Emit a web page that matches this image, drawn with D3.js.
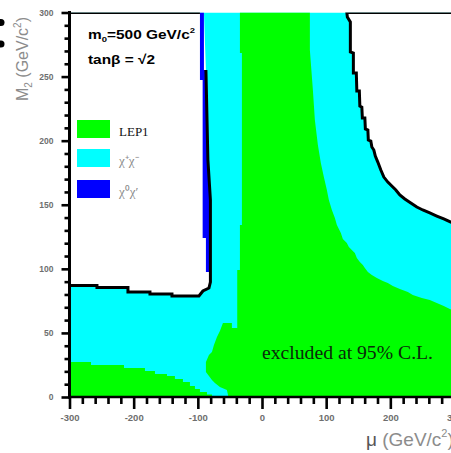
<!DOCTYPE html>
<html>
<head>
<meta charset="utf-8">
<script src="https://cdn.jsdelivr.net/npm/d3@7"></script>
<style>
  html, body { margin: 0; padding: 0; background: #fff; }
  svg { display: block; }
</style>
</head>
<body>
<svg id="chart" width="451" height="453"></svg>
<script>
// ---- axes ----
const muTicks = [-300, -200, -100, 0, 100, 200, 300];
const m2Ticks = [0, 50, 100, 150, 200, 250, 300];
const muMinor = d3.range(-300, 301, 20).filter(v => v % 100 !== 0);
const m2Minor = d3.range(0, 301, 10).filter(v => v % 50 !== 0);

// ---- region boundaries, (mu, M2) in GeV/c^2 ----
// allowed (not excluded) region at negative mu, contour from top down to the left edge
const allowedLeft = [[-87.4,255.1],[-84.3,184.9],[-80.4,153.7],[-80.4,89.7],[-82.7,85.0],
  [-92.1,82.7],[-98.3,78.8],[-140.3,78.8],[-140.3,80.4],[-174.6,80.4],[-174.6,81.9],
  [-208.9,81.9],[-208.9,85.4],[-257.2,85.4],[-257.2,87.0],[-300,87.0]];

// allowed region at large positive mu
const allowedRight = [[132.2,300],[133.0,296.5],[137.7,292.6],[137.7,269.2],[142.4,268.4],
  [142.4,252.8],[147.0,252.8],[147.8,238.7],[151.7,238.7],[152.5,227.0],[155.6,226.2],
  [156.4,217.7],[160.3,217.7],[161.1,209.1],[165.0,208.3],[165.7,200.5],[169.6,199.7],
  [171.2,195.1],[174.3,192.7],[176.6,188.0],[180.5,183.3],[185.2,177.1],[189.9,171.6],
  [196.1,167.7],[202.3,164.6],[208.6,161.5],[214.8,157.6],[222.6,154.5],[231.9,151.4],
  [241.3,148.2],[250.6,145.9],[261.5,143.6],[272.4,141.2],[283.3,138.9],[294.2,136.5],
  [300,135.4]];

// LEP1 exclusion: central band, left edge (top to bottom)
const lep1CentralLeft = [[-34.4,300],[-34.4,268.4],[-31.3,268.4],[-31.3,134.2],[-34.4,134.2],
  [-34.4,99.1],[-38.6,99.1],[-38.6,53.8],[-46.9,53.8],[-46.9,57.7],[-60.9,57.7],[-65.6,51.5],
  [-70.2,46.8],[-74.9,40.6],[-78.0,35.1],[-82.7,32.8],[-87.4,27.3],[-87.4,19.5],[-82.7,16.4],
  [-78.0,13.3],[-73.4,10.9],[-65.6,7.8],[-54.7,5.5],[-52.3,0]];

// LEP1 exclusion: central band, right edge (top to the right border)
const lep1CentralRight = [[74.6,300],[74.6,270.7],[79.3,239.5],[82.4,216.1],[87.1,196.6],
  [91.7,182.6],[96.4,171.6],[101.1,161.5],[104.2,153.7],[108.9,145.9],[113.6,139.7],
  [116.7,134.2],[122.9,128.0],[126.0,123.3],[132.2,120.2],[135.4,117.0],[140.0,114.7],
  [144.7,112.4],[147.8,108.4],[152.5,105.3],[157.2,103.0],[160.3,100.6],[165.0,97.5],
  [171.2,95.2],[179.0,92.8],[188.3,90.5],[196.1,88.9],[203.9,86.6],[214.8,84.3],
  [227.3,81.9],[235.0,79.6],[249.1,77.2],[261.5,75.7],[272.4,73.3],[283.3,71.0],
  [292.7,68.7],[300,67.1]];

// LEP1 exclusion: low-M2 strip at negative mu
const lep1Low = [[-300,0],[-300,27.3],[-266.5,27.3],[-266.5,25.0],[-215.1,25.0],[-215.1,22.6],
  [-182.4,22.6],[-182.4,20.3],[-166.8,20.3],[-166.8,17.9],[-148.1,17.9],[-148.1,16.4],
  [-135.7,16.4],[-135.7,14.0],[-123.2,14.0],[-123.2,11.7],[-112.3,11.7],[-112.3,8.6],
  [-104.5,8.6],[-104.5,6.2],[-96.7,6.2],[-96.7,3.9],[-85.8,3.9],[-85.8,2.0],[-78.0,2.0],
  [-78.0,0]];

// neutralino-pair exclusion sliver along the allowed-region edge
const neutralinoLeft = [[-96.7,300],[-96.7,247.3],[-92.5,247.3],[-92.5,124.1],[-87.4,124.1],[-87.4,97.5]];
const neutralinoRight = [[-80.4,97.5],[-80.4,153.7],[-84.3,184.9],[-87.4,255.1],[-90.5,255.1],[-90.5,300]];

const legendLabels = ["LEP1", "χ⁺χ⁻", "χ⁰χ′"];
const legendColors = ["#00ff00", "#00ffff", "#0000ff"];

// ---- layout ----
const svg = d3.select("#chart");
const x = d3.scaleLinear().domain([-300, 300]).range([69.5, 454.5]);
const y = d3.scaleLinear().domain([0, 300]).range([397, 12.5]);
const line = d3.line().x(d => x(d[0])).y(d => y(d[1]));
const [mu0, mu1] = x.domain(), [m0, m1] = y.domain();

svg.append("defs").append("clipPath").attr("id", "plot")
  .append("rect")
  .attr("x", x(mu0)).attr("y", y(m1))
  .attr("width", x(mu1) - x(mu0)).attr("height", y(m0) - y(m1));

const g = svg.append("g").attr("clip-path", "url(#plot)");

// chargino-pair exclusion covers everything not allowed
g.append("path")
  .attr("d", line([[mu0, m0], [mu0, m1], [mu1, m1], [mu1, m0]]) + "Z")
  .attr("fill", "#00ffff");

// allowed regions
g.append("path")
  .attr("d", line([[mu0, m1], [-90.5, m1], ...allowedLeft]) + "Z")
  .attr("fill", "#ffffff");
g.append("path")
  .attr("d", line([...allowedRight, [mu1, m1]]) + "Z")
  .attr("fill", "#ffffff");

// LEP1
g.append("path")
  .attr("d", line([...lep1CentralLeft, [mu1, m0], ...lep1CentralRight.slice().reverse()]) + "Z")
  .attr("fill", "#00ff00");
g.append("path")
  .attr("d", line(lep1Low) + "Z")
  .attr("fill", "#00ff00");

// neutralino sliver
g.append("path")
  .attr("d", line([...neutralinoLeft, ...neutralinoRight]) + "Z")
  .attr("fill", "#0000ff");

// contours of the allowed regions
g.append("path")
  .attr("d", line(allowedLeft))
  .attr("fill", "none").attr("stroke", "#000").attr("stroke-width", 3);
g.append("path")
  .attr("d", line([[mu0, m1], [-96.7, m1]]))
  .attr("fill", "none").attr("stroke", "#000").attr("stroke-width", 3);
g.append("path")
  .attr("d", line([[mu1, m1], ...allowedRight]))
  .attr("fill", "none").attr("stroke", "#000").attr("stroke-width", 3);

// ---- axes ----
const tickFont = "'Liberation Sans', Arial, sans-serif";

function styleAxis(sel) {
  sel.select(".domain").remove();
  sel.selectAll(".tick line").attr("stroke", "#000").attr("stroke-width", 2.6);
  sel.selectAll(".tick text").attr("fill", "#6e6e6e").attr("font-family", tickFont)
    .attr("font-weight", "bold");
}

svg.append("g").attr("transform", `translate(0,${y(0)})`)
  .call(d3.axisBottom(x).tickValues(muMinor).tickSize(7).tickFormat(""))
  .call(styleAxis);
svg.append("g").attr("transform", `translate(0,${y(0)})`)
  .call(d3.axisBottom(x).tickValues(muTicks).tickSize(12).tickPadding(5)
    .tickFormat(d => String(d)))
  .call(styleAxis)
  .call(s => s.selectAll(".tick text").attr("font-size", 9.5));

svg.append("g").attr("transform", `translate(${x(-300)},0)`)
  .call(d3.axisLeft(y).tickValues(m2Minor).tickSize(5).tickFormat(""))
  .call(styleAxis);
svg.append("g").attr("transform", `translate(${x(-300)},0)`)
  .call(d3.axisLeft(y).tickValues(m2Ticks).tickSize(8).tickPadding(8)
    .tickFormat(d => String(d)))
  .call(styleAxis)
  .call(s => s.selectAll(".tick text").attr("font-size", 8.5));

// frame lines
svg.append("line")
  .attr("x1", x(mu0)).attr("x2", x(mu0)).attr("y1", y(m1) - 1.5).attr("y2", y(m0) + 1.5)
  .attr("stroke", "#000").attr("stroke-width", 3);
svg.append("line")
  .attr("x1", x(mu0) - 1.5).attr("x2", x(mu1)).attr("y1", y(m0)).attr("y2", y(m0))
  .attr("stroke", "#000").attr("stroke-width", 2.6);

// axis titles
const yTitle = svg.append("text")
  .attr("transform", "translate(28,59) rotate(-90)")
  .attr("text-anchor", "middle")
  .attr("font-family", tickFont).attr("font-size", 16).attr("fill", "#8c8c8c");
yTitle.append("tspan").text("M");
yTitle.append("tspan").attr("font-size", 10).attr("dy", 4).text("2");
yTitle.append("tspan").attr("dy", -4).text(" (GeV/c");
yTitle.append("tspan").attr("font-size", 10).attr("dy", -7).text("2");
yTitle.append("tspan").attr("dy", 7).text(")");

const xTitle = svg.append("text")
  .attr("x", 366).attr("y", 446)
  .attr("font-family", tickFont).attr("font-size", 19).attr("fill", "#8c8c8c");
xTitle.append("tspan").attr("fill", "#555").text("μ");
xTitle.append("tspan").text(" (GeV/c");
xTitle.append("tspan").attr("font-size", 11).attr("dy", -9).text("2");
xTitle.append("tspan").attr("dy", 9).text(")");

// parameter annotations
const t1 = svg.append("text")
  .attr("x", 88).attr("y", 39)
  .attr("font-family", tickFont).attr("font-size", 13).attr("font-weight", "bold")
  .attr("textLength", 107).attr("lengthAdjust", "spacingAndGlyphs");
t1.append("tspan").text("m");
t1.append("tspan").attr("font-size", 8).attr("dy", 3).text("0");
t1.append("tspan").attr("dy", -3).text("=500 GeV/c");
t1.append("tspan").attr("font-size", 8).attr("dy", -6).text("2");

svg.append("text")
  .attr("x", 88).attr("y", 64)
  .attr("font-family", tickFont).attr("font-size", 13).attr("font-weight", "bold")
  .attr("textLength", 67).attr("lengthAdjust", "spacingAndGlyphs")
  .text("tanβ = √2");

// legend
const legendY = [120, 149, 180];
legendLabels.forEach((lab, i) => {
  svg.append("rect")
    .attr("x", 77).attr("y", legendY[i]).attr("width", 33).attr("height", 18)
    .attr("fill", legendColors[i]);
  svg.append("text")
    .attr("x", 119).attr("y", legendY[i] + 16)
    .attr("font-family", "'Liberation Serif', 'Times New Roman', serif")
    .attr("font-size", 13)
    .attr("fill", i === 0 ? "#111" : "#8a8a8a")
    .text(lab);
});

// region label
svg.append("text")
  .attr("x", 262).attr("y", 359)
  .attr("font-family", "'Liberation Serif', 'Times New Roman', serif")
  .attr("font-size", 18).attr("fill", "#0a2a0a")
  .attr("textLength", 171).attr("lengthAdjust", "spacingAndGlyphs")
  .text("excluded at 95% C.L.");

// bullet marks at the left margin
[22.5, 44].forEach(cy => {
  svg.append("circle").attr("cx", 1).attr("cy", cy).attr("r", 3.5).attr("fill", "#000");
});
</script>
</body>
</html>
